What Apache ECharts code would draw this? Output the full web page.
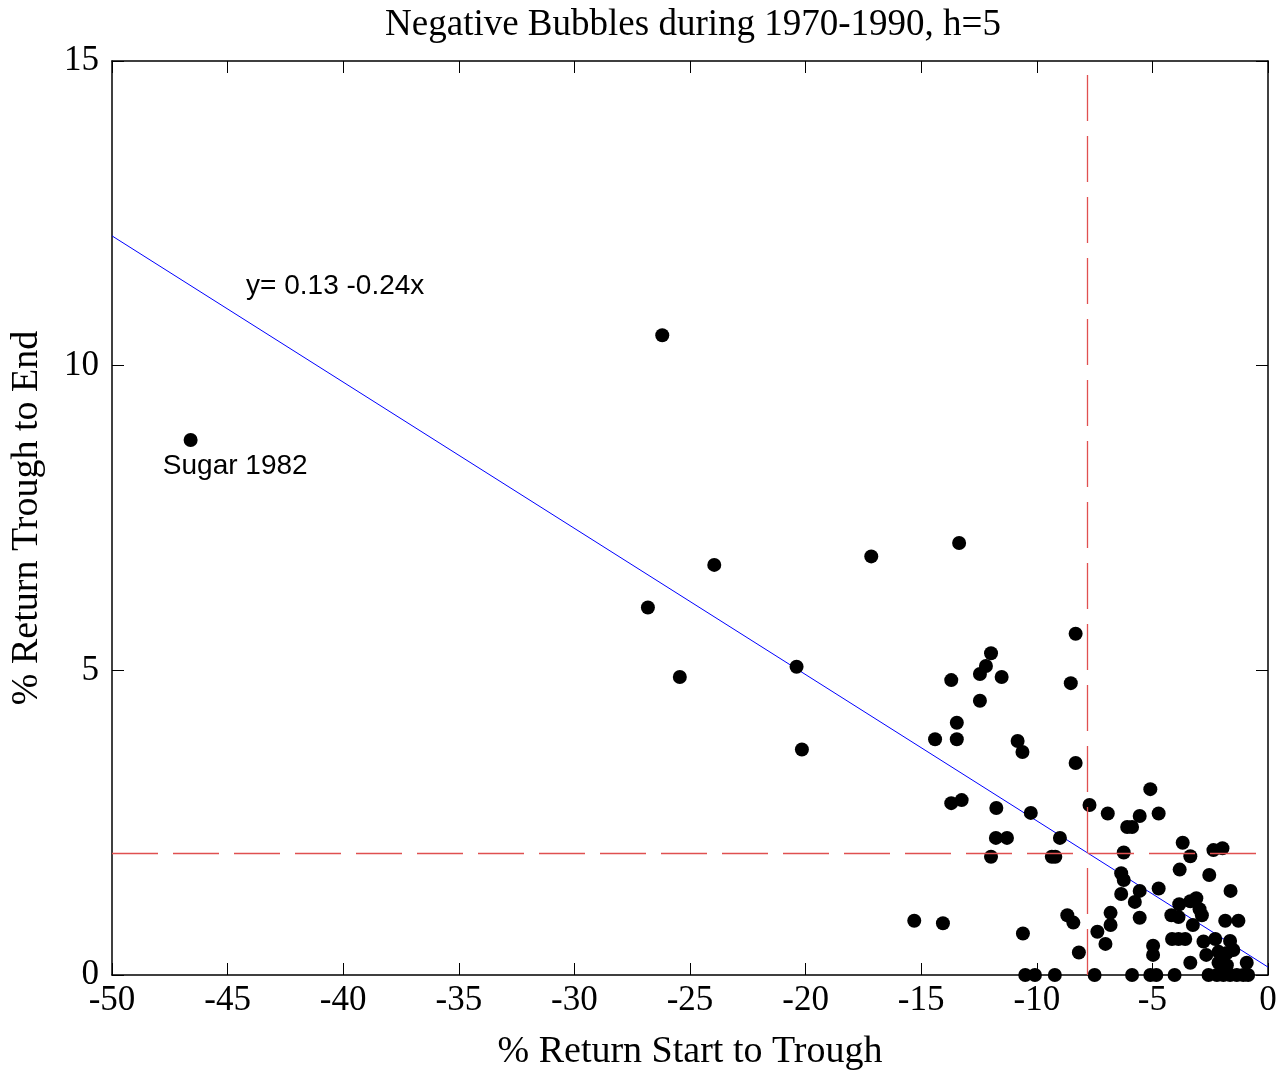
<!DOCTYPE html>
<html><head><meta charset="utf-8">
<script src="https://cdn.jsdelivr.net/npm/echarts@6/dist/echarts.min.js"></script>
<style>html,body{margin:0;padding:0;background:#fff}#c{width:1283px;height:1077px}</style>
</head><body><div id="c"></div>
<script>
const titleText = "Negative Bubbles during 1970-1990, h=5";
const xName = "% Return Start to Trough";
const yName = "% Return Trough to End";
const xTicks = [-50,-45,-40,-35,-30,-25,-20,-15,-10,-5,0];
const yTicks = [0,5,10,15];
const fitIntercept = 0.13;
const fitSlope = -0.24;
const cutX = -7.8;
const cutY = 2;
const eqLabel = "y= 0.13 -0.24x";
const sugarLabel = "Sugar 1982";
const eqPos = [-44.2, 11.3];
const sugarPos = [-47.8, 8.35];
const xs = [-46.6,-26.2,-26.82,-25.44,-23.95,-20.39,-20.16,-17.16,-13.36,-15.3,-14.06,
-8.32,-11.98,-12.2,-12.46,-13.7,-11.52,-8.53,-12.46,-13.46,-14.4,-13.46,-10.83,-10.62,-8.32,
-13.7,-13.25,-11.75,-10.26,-11.77,-11.29,-11.98,-9.35,-9.2,-9.0,-10.6,-8.68,-8.42,-8.18,
-10.5,-10.08,-9.22,-7.72,-6.93,-7.38,-7.03,-6.81,-6.81,-7.5,
-5.09,-5.55,-4.73,-6.09,-5.88,-3.69,-2.36,-1.97,-6.24,-3.36,-6.35,-6.24,-3.82,-2.54,
-5.55,-4.73,-6.35,-5.76,-1.62,-3.84,-3.36,-3.1,-2.96,-2.86,-4.18,-3.87,-5.55,-3.25,
-1.85,-1.28,-4.15,-3.87,-3.58,-2.79,-2.28,-1.64,-4.97,-4.97,-2.67,-2.14,-1.78,-1.5,
-3.36,-2.14,-1.78,-0.92,-5.88,-5.09,-4.83,-4.04,-2.57,-2.21,-1.93,-1.64,-1.35,-1.07,-0.86];
const ys = [8.78,10.5,6.03,4.89,6.73,5.06,3.70,6.87,7.09,0.89,0.85,
5.6,5.28,5.07,4.94,4.84,4.89,4.79,4.50,4.14,3.87,3.87,3.84,3.66,3.48,
2.82,2.87,2.74,2.66,2.25,2.25,1.94,1.94,1.94,2.25,0.68,0.98,0.86,0.37,
0,0,0,2.79,2.65,0.71,0.51,1.02,0.82,0,
3.05,2.61,2.65,2.43,2.43,2.17,2.05,2.08,2.01,1.95,1.67,1.56,1.73,1.64,
1.38,1.42,1.33,1.20,1.38,1.16,1.21,1.26,1.08,0.98,0.98,0.95,0.94,0.82,
0.89,0.89,0.59,0.59,0.59,0.55,0.59,0.56,0.48,0.33,0.33,0.38,0.36,0.41,
0.2,0.2,0.16,0.2,0,0,0,0,0,0,0,0,0,0,0];

const pts = xs.map((x,i)=>[x,ys[i]]);
const xMin = xTicks[0], xMax = xTicks[xTicks.length-1];
const yMin = yTicks[0], yMax = yTicks[yTicks.length-1];
const fit = [[xMin, fitIntercept + fitSlope*xMin],[xMax, fitIntercept + fitSlope*xMax]];
const serif = "Liberation Serif";
const ch = echarts.init(document.getElementById('c'));
const axBase = {
  axisLine:{show:true,onZero:false,lineStyle:{color:'#000',width:1.5}},
  axisTick:{show:true,inside:true,length:12,lineStyle:{color:'#000',width:1}},
  splitLine:{show:false}
};
const lblStyle = {fontFamily:'Liberation Sans',fontSize:28,color:'#000'};
const gridL = 108, gridR = 15, W = 1283;
ch.setOption({
  animation:false,
  backgroundColor:'#fff',
  title:{text:titleText,left:(gridL + (W - gridR))/2,textAlign:'center',top:2,textStyle:{fontFamily:serif,fontWeight:'normal',fontSize:37,color:'#000'}},
  grid:{left:gridL,right:gridR,top:61,bottom:102},
  xAxis:[
    Object.assign({type:'value',min:xMin,max:xMax,interval:5,position:'bottom',
      name:xName,nameLocation:'middle',nameGap:58,
      nameTextStyle:{fontFamily:serif,fontSize:38,color:'#000'},
      axisLabel:{fontFamily:serif,fontSize:35,color:'#000',margin:8}},axBase),
    Object.assign({type:'value',min:xMin,max:xMax,interval:5,position:'top',axisLabel:{show:false}},axBase)
  ],
  yAxis:[
    Object.assign({type:'value',min:yMin,max:yMax,interval:5,position:'left',
      name:yName,nameLocation:'middle',nameGap:66,
      nameTextStyle:{fontFamily:serif,fontSize:38,color:'#000'},
      axisLabel:{fontFamily:serif,fontSize:35,color:'#000',margin:13}},axBase),
    Object.assign({type:'value',min:yMin,max:yMax,interval:5,position:'right',axisLabel:{show:false}},axBase)
  ],
  series:[
    {type:'line',data:fit,symbol:'none',lineStyle:{color:'#0000ff',width:1},z:3,
     markLine:{silent:true,symbol:'none',label:{show:false},
       lineStyle:{color:'#e05050',type:[46,15],width:1.3},
       data:[{xAxis:cutX},{yAxis:cutY}]}},
    {type:'scatter',data:pts,symbol:'circle',symbolSize:14,itemStyle:{color:'#000',opacity:1},clip:false,z:4},
    {type:'scatter',symbolSize:0,silent:true,z:5,itemStyle:{opacity:1},
     data:[{value:eqPos,label:Object.assign({show:true,formatter:eqLabel,position:'right',distance:0},lblStyle)},
           {value:sugarPos,label:Object.assign({show:true,formatter:sugarLabel,position:'right',distance:0},lblStyle)}]}
  ]
});
</script></body></html>
